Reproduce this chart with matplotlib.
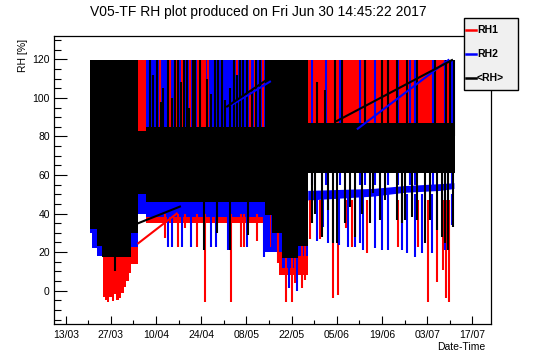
import matplotlib.pyplot as plt
from matplotlib.lines import Line2D
from matplotlib.patches import Rectangle
import numpy as np

plt.rcParams['font.family'] = ['Liberation Sans', 'DejaVu Sans']

title = 'V05-TF RH plot produced on Fri Jun 30 14:45:22 2017'

# x is in days since 13/03/2017
tick_days = [0, 14, 28, 42, 56, 70, 84, 98, 112, 126]
tick_labels = ['13/03', '27/03', '10/04', '24/04', '08/05', '22/05',
               '05/06', '19/06', '03/07', '17/07']
series_names = ['RH1', 'RH2', '<RH>']
series_colors = ['red', 'blue', 'black']

# envelopes of the dense traces (step segments, last value repeats)
rh1_t = [7.5, 11.7, 12.2, 12.8, 13.5, 14.2, 15.0, 15.6, 16.4, 17.2, 18.0,
         18.8, 19.5, 20.2, 22.4, 25.0, 61.8, 66.0, 75.0, 120.5]
rh1_lo = [30, -3.3, -4.8, -5.9, -3.5, -5.5, -2.0, -5.0, -4.0, -1.0, 2.0,
          5.0, 9.0, 14, 44, 35, 20, 8, 87, 87]
rh1_hi = [119.6] * len(rh1_t)

rh2_t = [7.5, 8.2, 9.7, 20.2, 22.4, 25.0, 61.8, 67.0, 72.0, 75.0]
rh2_lo = [30, 22, 18, 22.7, 40, 38, 20, 12, 18, 18]
rh2_hi = [119.6, 119.6, 119.6, 119.6, 52, 119.6, 119.6, 119.6, 119.6, 119.6]

# RH2 plateau after 28/05
rh2_flat_t = [75, 85, 95, 105, 116, 120.3]
rh2_flat_lo = [47, 48, 49, 51, 52, 53]
rh2_flat_hi = [52, 52.5, 53, 54.5, 55.5, 56]

avg_t = [7.5, 9.7, 11.2, 20.2, 22.4, 25.0, 61.8, 64.0, 67.0, 72.0, 75.0, 120.5]
avg_lo = [32, 23, 17.5, 30, 50, 46, 39, 30, 17, 23, 61, 61]
avg_hi = [119.6, 119.6, 119.6, 119.6, 83, 85, 119.6, 119.6, 119.6, 119.6, 87, 87]

# single excursions
rh1_up_t = [29.2, 32.3, 34.2, 36.0, 38.5, 41.0, 41.8, 42.6, 43.2, 44.1,
            53.0, 57.0, 58.8, 61.0]
rh1_spike_t = [30.8, 34.7, 37.0, 40.7, 43.2, 51.2, 54.2, 55.3, 59.2, 63.3,
               65.8, 68.3, 70.1, 71.1, 73.2, 74.2, 75.7, 78.8, 82.8, 84.4,
               86.9, 88.7, 93.4, 103.0, 109.2, 112.3, 115.1, 117.0, 117.9, 118.8]
rh1_spike_top = [40, 40, 40, 40, 40, 40, 40, 40, 40, 40,
                 40, 40, 40, 40, 40, 40, 47, 47, 47, 47,
                 47, 47, 47, 47, 47, 47, 47, 47, 47, 47]
rh1_spike_bot = [27.4, 22.7, 32.4, 22.7, -5.7, -5.7, 22.7, 22.7, 26.0, 22.7,
                 14.3, -6.0, -6.0, 4.0, 1.4, 5.5, 27.0, 27.0, -4.0, -2.3,
                 32.4, 22.7, 19.5, 22.7, 22.7, -5.7, 4.6, 10.7, -4.0, -5.7]

rh2_up_t = [76.3, 80.6, 85.0, 91.2, 92.7, 95.8, 99.9, 103.0, 106.7, 108.2,
            113.8, 117.5, 119.7]
rh2_spike_t = [31.7, 33.0, 36.0, 38.8, 45.0, 46.5, 50.3, 56.2, 61.5, 63.0,
               64.5, 67.0, 69.2, 71.7, 77.9, 79.7, 81.3, 84.7, 87.5, 89.6,
               91.2, 92.1, 95.8, 98.0, 99.9, 104.2, 105.8, 108.2, 110.4, 113.5,
               117.5, 119.7]
rh2_spike_top = [40, 40, 40, 40, 40, 40, 40, 40, 40, 40,
                 40, 40, 40, 40, 50, 50, 50, 50, 50, 50,
                 50, 50, 50, 50, 50, 50, 50, 50, 50, 50,
                 50, 50]
rh2_spike_bot = [22.7, 22.7, 22.7, 22.7, 22.7, 22.7, 21.0, 22.7, 17.5, 22.7,
                 22.7, 24.7, 1.4, 0.0, 26.0, 33.0, 24.7, 23.7, 22.7, 22.7,
                 24.7, 21.0, 22.0, 21.0, 21.0, 21.0, 19.5, 17.5, 19.5, 19.5,
                 21.0, 34.0]

avg_up_t = [26.0, 27.0, 28.3, 29.5, 30.2, 31.7, 32.9, 33.8, 34.8, 35.6,
            36.6, 37.6, 38.2, 39.4, 40.1, 41.5, 43.8, 45.0, 46.3, 47.2,
            48.5, 49.5, 50.9, 52.0, 53.2, 54.0, 55.0, 56.2, 57.6, 59.0,
            60.2, 77.9, 80.4, 83.5, 85.6, 92.6, 98.0, 99.9, 102.7, 105.8,
            108.9, 114.4, 118.0, 119.2, 120.3]
avg_up_hi = [119.6, 112, 119.6, 98, 105, 119.6, 100, 119.6, 119.6, 108,
             119.6, 119.6, 95, 119.6, 119.6, 119.6, 110, 102, 119.6, 119.6,
             119.6, 99, 105, 119.6, 112, 119.6, 119.6, 119.6, 104, 119.6,
             119.6, 108, 104, 119.6, 119.6, 119.6, 119.6, 119.6, 119.6, 119.6,
             119.6, 119.6, 119.6, 119.6, 119.6]
avg_dn_t = [15.3, 42.9, 46.8, 50.9, 56.4, 76.3, 77.2, 79.4, 81.3, 82.8,
            84.1, 86.5, 88.1, 89.6, 91.8, 94.3, 95.2, 97.4, 98.9, 102.7,
            104.2, 105.2, 107.3, 108.9, 111.3, 112.9, 115.1, 116.6, 117.5, 118.5,
            120.0]
avg_dn_top = [20, 48, 48, 48, 48, 61, 61, 61, 61, 61,
              61, 61, 61, 61, 61, 61, 61, 61, 61, 61,
              61, 61, 61, 61, 61, 61, 61, 61, 61, 61,
              61]
avg_dn_bot = [10, 21, 30, 21, 29, 35, 40, 28, 41.8, 24.6,
              24.6, 35, 43.6, 28, 40, 35, 50.6, 36.7, 47, 36.6,
              35, 36.7, 38.4, 36.7, 24.7, 36.7, 31.5, 28, 24.7, 21,
              33]

# straight segments across data gaps
rh1_gap_t = [22.5, 34.4]
rh1_gap_v = [24.6, 40.0]
rh2_gap1_t = [51.4, 63.3]
rh2_gap1_v = [96.3, 108.4]
rh2_gap2_t = [90.5, 118.6]
rh2_gap2_v = [84.0, 119.6]
avg_gap1_t = [22.5, 35.4]
avg_gap1_v = [35.0, 43.6]
avg_gap2_t = [50.0, 63.3]
avg_gap2_v = [95.5, 110.5]
avg_gap3_t = [84.0, 119.7]
avg_gap3_v = [88.0, 119.6]

fig = plt.figure(figsize=(5.46, 3.62), dpi=100)
ax = fig.add_axes([0.0989, 0.105, 0.8004, 0.7956])

red, blue, black = series_colors

ax.fill_between(rh1_t, rh1_lo, rh1_hi, step='post', color=red, lw=0, zorder=1)
ax.fill_between(rh2_t, rh2_lo, rh2_hi, step='post', color=blue, lw=0, zorder=2)
ax.fill_between(rh2_flat_t, rh2_flat_lo, rh2_flat_hi, color=blue, lw=0, zorder=2)

ax.vlines(rh1_up_t, 84, 119.6, color=red, lw=1.5, zorder=3)
ax.vlines(rh2_up_t, 55, 119.6, color=blue, lw=1.5, zorder=3)
ax.vlines(rh1_spike_t, rh1_spike_bot, rh1_spike_top, color=red, lw=1.5, zorder=3)
ax.vlines(rh2_spike_t, rh2_spike_bot, rh2_spike_top, color=blue, lw=1.5, zorder=3.1)

ax.fill_between(avg_t, avg_lo, avg_hi, step='post', color=black, lw=0, zorder=4)
ax.vlines(avg_up_t, 80, avg_up_hi, color=black, lw=1.5, zorder=5)
ax.vlines(avg_dn_t, avg_dn_bot, avg_dn_top, color=black, lw=1.5, zorder=5)

ax.plot(rh1_gap_t, rh1_gap_v, color=red, lw=1.5, zorder=6)
ax.plot(rh2_gap1_t, rh2_gap1_v, color=blue, lw=1.5, zorder=6)
ax.plot(rh2_gap2_t, rh2_gap2_v, color=blue, lw=1.5, zorder=6)
ax.plot(avg_gap1_t, avg_gap1_v, color=black, lw=1.5, zorder=6.1)
ax.plot(avg_gap2_t, avg_gap2_v, color=black, lw=1.5, zorder=6.1)
ax.plot(avg_gap3_t, avg_gap3_v, color=black, lw=1.5, zorder=6.1)

ax.set_xlim(-3.63, 131.8)
ax.set_ylim(-17.3, 132.1)

ax.set_xticks(tick_days)
ax.set_xticklabels(tick_labels, fontsize=7.5)
ax.set_xticks(np.arange(7, 126, 14), minor=True)
ax.set_yticks(np.arange(0, 121, 20))
ax.set_yticks(np.arange(-15, 131, 5), minor=True)
ax.tick_params(axis='y', which='major', direction='in', length=9.4, width=0.8,
               labelsize=7.5, pad=3)
ax.tick_params(axis='y', which='minor', direction='in', length=5, width=0.8)
ax.tick_params(axis='x', which='major', direction='in', length=5.8, width=0.8,
               labelsize=7.5, pad=4)
ax.tick_params(axis='x', which='minor', direction='in', length=2.9, width=0.8)
for s in ax.spines.values():
    s.set_linewidth(0.9)

fig.text(0.473, 0.9655, title, ha='center', va='center', fontsize=10)
fig.text(485 / 546, 1 - 347 / 362, 'Date-Time', ha='right', va='center', fontsize=7.5)
fig.text(23 / 546, 1 - 39 / 362, 'RH [%]', ha='center', va='top', rotation=90,
         fontsize=7.5)

# legend box drawn like the ROOT TLegend
fig.add_artist(Rectangle((464 / 546, 1 - 90 / 362), 54 / 546, 72 / 362,
                         transform=fig.transFigure, facecolor='#f0f0f0',
                         edgecolor='black', lw=1, zorder=10))
for i, (name, col) in enumerate(zip(series_names, series_colors)):
    y = 1 - (30 + 24 * i) / 362
    fig.add_artist(Line2D([466 / 546, 476 / 546], [y, y], transform=fig.transFigure,
                          color=col, lw=1.8, zorder=11))
    fig.text(477 / 546, y, name, ha='left', va='center', fontsize=7.5,
             fontweight='bold', zorder=11)

fig.savefig('out.png', dpi=100)
